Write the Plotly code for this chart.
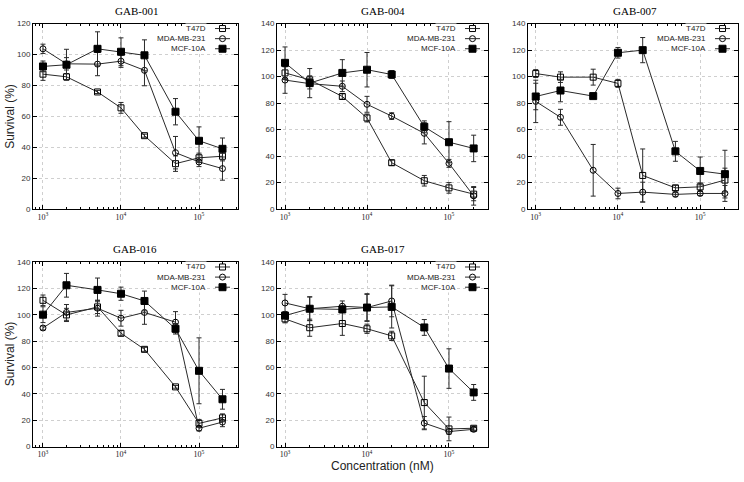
import plotly.graph_objects as go

conc = [1000, 2000, 5000, 10000, 20000, 50000, 100000, 200000]
series_names = ["T47D", "MDA-MB-231", "MCF-10A"]
panel_titles = ["GAB-001", "GAB-004", "GAB-007", "GAB-016", "GAB-017"]

# GAB-001
g001_t47d = [87.3, 85.6, 75.8, 65.5, 47.5, 29.4, 33.2, 34.2]
g001_t47d_err = [4, 2, 1, 3.5, 1, 5, 3, 3]
g001_mda = [103.7, 94.0, 93.8, 95.7, 89.8, 36.5, 30.5, 26.2]
g001_mda_err = [3, 4, 7.5, 4, 10, 10.5, 3, 7.5]
g001_mcf = [92.3, 93.4, 103.7, 101.8, 99.5, 63.0, 44.2, 39.0]
g001_mcf_err = [3.5, 10, 11, 9, 10, 8.5, 9, 7]

# GAB-004
g004_t47d = [102.8, 97.6, 85.0, 68.8, 35.0, 21.4, 16.0, 11.3]
g004_t47d_err = [5, 3, 2, 3, 2, 4, 4, 5]
g004_mda = [97.4, 94.7, 92.7, 79.1, 70.2, 57.2, 34.5, 10.0]
g004_mda_err = [10, 4, 4, 6, 2.5, 8, 3, 7]
g004_mcf = [110.4, 95.1, 102.8, 105.2, 101.6, 62.1, 50.5, 45.8]
g004_mcf_err = [12, 11, 10, 13, 3, 4.5, 15.5, 10]

# GAB-007
g007_t47d = [102.3, 99.6, 99.6, 94.9, 25.4, 16.0, 16.8, 21.9]
g007_t47d_err = [3, 4, 6, 3, 20, 2, 3, 9]
g007_mda = [81.3, 69.3, 29.3, 11.8, 12.8, 11.1, 11.8, 11.8]
g007_mda_err = [16, 6, 19.5, 4, 7.5, 1.5, 1.5, 6]
g007_mcf = [85.0, 89.5, 85.3, 118.0, 120.0, 43.6, 28.8, 26.4]
g007_mcf_err = [10, 8.5, 1, 4, 9.5, 7.5, 10.5, 18]

# GAB-016
g016_t47d = [111.0, 99.9, 106.0, 86.0, 73.8, 45.3, 17.6, 21.8]
g016_t47d_err = [4, 5, 5, 2, 1.5, 1, 3, 3]
g016_mda = [90.0, 101.8, 105.0, 97.4, 101.8, 94.4, 13.9, 18.6]
g016_mda_err = [1.5, 6, 6, 6, 9, 8, 2, 3.5]
g016_mcf = [100.1, 122.4, 118.9, 116.0, 110.5, 89.4, 57.5, 35.9]
g016_mcf_err = [6, 9, 9, 5, 7.5, 4, 25, 7.5]

# GAB-017
g017_t47d = [96.9, 90.2, 93.4, 89.4, 84.0, 33.4, 13.4, 13.9]
g017_t47d_err = [3, 6.5, 9, 3.5, 3.5, 20, 9, 1.5]
g017_mda = [109.0, 104.6, 106.5, 105.5, 110.5, 17.8, 11.4, 13.1]
g017_mda_err = [6.5, 9, 4, 10, 12, 5, 2, 1.5]
g017_mcf = [99.4, 104.6, 104.1, 105.5, 106.0, 90.4, 59.2, 41.1]
g017_mcf_err = [2, 9, 2.5, 10.5, 16, 6, 15, 6]

panel_data = [
    [(g001_t47d, g001_t47d_err), (g001_mda, g001_mda_err), (g001_mcf, g001_mcf_err)],
    [(g004_t47d, g004_t47d_err), (g004_mda, g004_mda_err), (g004_mcf, g004_mcf_err)],
    [(g007_t47d, g007_t47d_err), (g007_mda, g007_mda_err), (g007_mcf, g007_mcf_err)],
    [(g016_t47d, g016_t47d_err), (g016_mda, g016_mda_err), (g016_mcf, g016_mcf_err)],
    [(g017_t47d, g017_t47d_err), (g017_mda, g017_mda_err), (g017_mcf, g017_mcf_err)],
]
y_max = [120, 140, 140, 140, 140]

W, H = 744, 482
# pixel boxes of each panel: (left, right, top, bottom), and log x ranges
boxes = [(33, 238, 20, 209), (277, 488, 20, 209), (528, 738, 20, 209),
         (33, 238, 263, 451), (277, 488, 263, 451)]
xranges = [(2.872, 5.5), (2.902, 5.476), (2.906, 5.46), (2.872, 5.5), (2.902, 5.476)]
title_pos = [(136, 7), (383, 7), (635, 7), (135, 250), (383, 250)]

def px(x):
    return x / W

def py(y):
    return 1 - y / H

LINE = "#2a2a2a"
symbols = ["square-open", "circle-open", "square"]
msizes = [6, 6, 7]
SANS = "Liberation Sans, Arial, sans-serif"
SERIF = "Liberation Serif, Times New Roman, serif"

minor_vals = [m * 10 ** e for e in (2, 3, 4, 5) for m in range(2, 10)]

fig = go.Figure()
layout = dict(width=W, height=H, margin=dict(l=0, r=0, t=0, b=0),
              paper_bgcolor="white", plot_bgcolor="white", showlegend=False)
annotations = []
shapes = []

for i in range(5):
    n = "" if i == 0 else str(i + 1)
    xa, ya = "x" + n, "y" + n
    for s in range(3):
        vals, errs = panel_data[i][s]
        fig.add_trace(go.Scatter(
            x=conc, y=vals, xaxis=xa, yaxis=ya, mode="lines+markers",
            name=series_names[s],
            line=dict(color=LINE, width=1),
            marker=dict(symbol=symbols[s], size=msizes[s], color="black",
                        line=dict(color="black", width=1)),
            error_y=dict(type="data", array=errs, visible=True, color=LINE,
                         thickness=1, width=2.5),
        ))
    l, r, t, b = boxes[i]
    layout["xaxis" + n] = dict(
        type="log", range=list(xranges[i]), domain=[px(l), px(r)], anchor=ya,
        tickvals=[1e3, 1e4, 1e5],
        ticktext=["10<sup>3</sup>", "10<sup>4</sup>", "10<sup>5</sup>"],
        tickfont=dict(family=SERIF, size=8, color="#222"),
        ticks="inside", ticklen=4, tickcolor="black", mirror="allticks",
        showline=True, linecolor="black", linewidth=1,
        showgrid=True, gridcolor="#cfcfcf", griddash="dot", gridwidth=1,
        zeroline=False,
        minor=dict(tickvals=minor_vals, ticks="inside", ticklen=2,
                   tickcolor="black", showgrid=False),
    )
    layout["yaxis" + n] = dict(
        range=[0, y_max[i]], domain=[py(b), py(t)], anchor=xa,
        dtick=20, tick0=0,
        tickfont=dict(family=SANS, size=8, color="#333"),
        ticks="inside", ticklen=4, tickcolor="black", mirror="allticks",
        showline=True, linecolor="black", linewidth=1,
        showgrid=True, gridcolor="#cfcfcf", griddash="dot", gridwidth=1,
        zeroline=False,
    )
    # panel title
    tx, ty = title_pos[i]
    annotations.append(dict(text=panel_titles[i], x=px(tx), y=py(ty), xref="paper",
                            yref="paper", showarrow=False, xanchor="center",
                            yanchor="middle",
                            font=dict(family=SERIF, size=11, color="black")))
    # gnuplot-style key
    for s in range(3):
        rowy = t + 5 + s * 10.3
        annotations.append(dict(text=series_names[s], x=px(r - 31), y=py(rowy),
                                xref="paper", yref="paper", showarrow=False,
                                xanchor="right", yanchor="middle",
                                bgcolor="white", borderpad=0,
                                font=dict(family=SANS, size=8, color="#222")))
        shapes.append(dict(type="line", xref="paper", yref="paper",
                           x0=px(r - 23), x1=px(r - 8), y0=py(rowy), y1=py(rowy),
                           line=dict(color=LINE, width=1)))
        cx = px(r - 15.5)
        hs = 3 if s < 2 else 3.5
        shp = dict(xref="paper", yref="paper", xsizemode="pixel", ysizemode="pixel",
                   xanchor=cx, yanchor=py(rowy), x0=-hs, x1=hs, y0=-hs, y1=hs,
                   line=dict(color="black", width=1))
        if s == 0:
            shp.update(type="rect", fillcolor="white")
        elif s == 1:
            shp.update(type="circle", fillcolor="white")
        else:
            shp.update(type="rect", fillcolor="black")
        shapes.append(shp)
        # line through open markers, as in the plotted symbols
        if s < 2:
            shapes.append(dict(type="line", xref="paper", yref="paper",
                               x0=px(r - 18.5), x1=px(r - 12.5),
                               y0=py(rowy), y1=py(rowy),
                               line=dict(color=LINE, width=1)))

# axis titles
for yc in (115, 357):
    annotations.append(dict(text="Survival (%)", x=px(10), y=py(yc), xref="paper",
                            yref="paper", showarrow=False, textangle=-90,
                            xanchor="center", yanchor="middle",
                            font=dict(family=SANS, size=12, color="#222")))
annotations.append(dict(text="Concentration (nM)", x=px(382), y=py(471), xref="paper",
                        yref="paper", showarrow=False, xanchor="center",
                        yanchor="middle", font=dict(family=SANS, size=12, color="#222")))

layout["annotations"] = annotations
layout["shapes"] = shapes
fig.update_layout(**layout)
fig.write_html("out.html", config={"displayModeBar": False},
               post_script="document.body.style.margin='0';document.body.style.overflow='hidden';")
